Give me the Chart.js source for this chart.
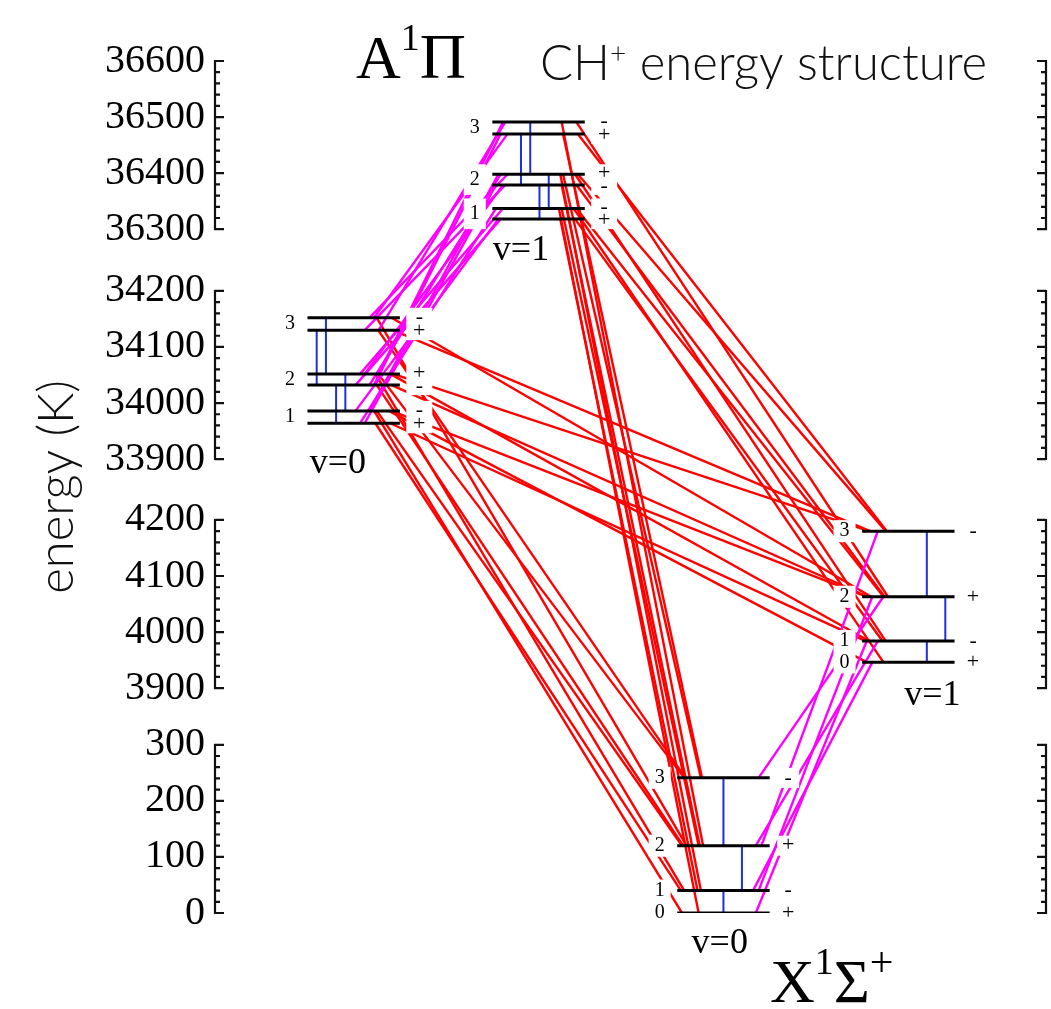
<!DOCTYPE html>
<html>
<head>
<meta charset="utf-8">
<script src="https://cdn.jsdelivr.net/npm/chart.js@4.4.1/dist/chart.umd.min.js"></script>
<style>
html, body { margin: 0; padding: 0; background: #fff; }
#wrap { width: 1051px; height: 1009px; position: relative; }
</style>
</head>
<body>
<div id="wrap"><canvas id="levelChart"></canvas></div>
<script>
// level energies in K
// A state: order is J1, J1, J2, J2, J3, J3 (lower sublevel first)
const aLevelJ = [1, 1, 2, 2, 3, 3];
const aLevelParity = ['+', '-', '-', '+', '+', '-'];
const aV0Energy = [33964, 33986, 34032, 34052, 34130, 34152];
const aV1Energy = [36318, 36337, 36379, 36398, 36470, 36491];
// X state: J = 0..3
const xLevelJ = [0, 1, 2, 3];
const xLevelParity = ['+', '-', '+', '-'];
const xV0Energy = [0, 40, 120, 241];
const xV1Energy = [3946, 3984, 4063, 4180];

// broken energy axis
const axisSegments = [[0, 300], [3900, 4200], [33900, 34200], [36300, 36600]];
const tickLabels = [0, 100, 200, 300, 3900, 4000, 4100, 4200, 33900, 34000, 34100, 34200, 36300, 36400, 36500, 36600];

// A -> X electronic lines: [A level index, X level J]
const electronicPairs = [[1, 0], [1, 2], [0, 1], [3, 1], [3, 3], [2, 2], [5, 2], [4, 3]];
// A v=1 -> A v=0: [upper index, lower index]
const aVibPairs = [[5, 4], [5, 3], [4, 5], [4, 2], [3, 5], [3, 2], [3, 1], [2, 4], [2, 3], [2, 0], [1, 3], [1, 0], [0, 2], [0, 1]];
// X v=1 -> X v=0: [upper J, lower J]
const xVibPairs = [[3, 2], [2, 3], [2, 1], [1, 2], [1, 0], [0, 1]];
// pure rotational / lambda doublet lines (blue): [upper index, lower index]
const aRotPairs = [[4, 2], [5, 3], [2, 0], [3, 1]];
const xRotPairs = [[3, 2], [2, 1], [1, 0]];

// ---- layout (not data) ----
const segmentGap = [101, 108.5, 110];
const col = { A0: 1, A1: 3, X0: 5, X1: 7 };
const aRotX = { A0: [0.10, 0.20, 0.31, 0.41], A1: [0.31, 0.41, 0.51, 0.61] };
const xRotX = { X0: [0.5, 0.7, 0.5], X1: [0.7, 0.9, 0.7] };

function toDisplay(E) {
  let base = 0;
  for (let i = 0; i < axisSegments.length; i++) {
    const [lo, hi] = axisSegments[i];
    if (E <= hi + 50 || i === axisSegments.length - 1) return base + (E - lo);
    base += (hi - lo) + segmentGap[i];
  }
}

function seg(x1, e1, x2, e2, color, width, order) {
  return {
    data: [{ x: x1, y: toDisplay(e1) }, { x: x2, y: toDisplay(e2) }],
    showLine: true, borderColor: color, borderWidth: width,
    pointRadius: 0, fill: false, order: order
  };
}

const datasets = [];
const RED = '#ff0000', MAG = '#ff00ff', BLUE = '#1f2fe0';

// electronic lines
[['A0', aV0Energy], ['A1', aV1Energy]].forEach(([ak, aE]) => {
  [['X0', xV0Energy], ['X1', xV1Energy]].forEach(([xk, xE]) => {
    electronicPairs.forEach(([ui, lj]) => {
      const uf = (xk === 'X0' ? 0.72 : 0.88) + 0.015 * lj;
      const lf = (ak === 'A0' ? 0.04 : 0.22) + 0.012 * ui;
      datasets.push(seg(col[ak] + uf, aE[ui], col[xk] + lf, xE[lj], RED, 2.4, 4));
    });
  });
});
// vibrational lines
aVibPairs.forEach(([ui, li]) => {
  datasets.push(seg(col.A1 + 0.04 + 0.025 * li, aV1Energy[ui], col.A0 + 0.52 + 0.05 * ui, aV0Energy[li], MAG, 2.4, 3));
});
xVibPairs.forEach(([uj, lj]) => {
  datasets.push(seg(col.X1 + 0.05 + 0.06 * lj, xV1Energy[uj], col.X0 + 0.82 + 0.03 * uj, xV0Energy[lj], MAG, 2.4, 3));
});
// blue rotational lines
['A0', 'A1'].forEach(k => {
  const E = k === 'A0' ? aV0Energy : aV1Energy;
  aRotPairs.forEach(([u, l], i) => {
    const x = col[k] + aRotX[k][i];
    datasets.push(seg(x, E[u], x, E[l], BLUE, 2, 1));
  });
});
['X0', 'X1'].forEach(k => {
  const E = k === 'X0' ? xV0Energy : xV1Energy;
  xRotPairs.forEach(([u, l], i) => {
    const x = col[k] + xRotX[k][i];
    datasets.push(seg(x, E[u], x, E[l], BLUE, 2, 1));
  });
});
// level bars
[['A0', aV0Energy], ['A1', aV1Energy], ['X0', xV0Energy], ['X1', xV1Energy]].forEach(([k, E]) => {
  E.forEach(e => datasets.push(seg(col[k], e, col[k] + 1, e, '#000', 3, 0)));
});

const SERIF = '"Liberation Serif", "DejaVu Serif", serif';
const SANS = 'Lato, "Liberation Sans", sans-serif';

const brokenAxis = {
  id: 'brokenAxis',
  afterDraw(chart) {
    const { ctx, chartArea, scales: { y } } = chart;
    ctx.save();
    ctx.strokeStyle = '#111';
    ctx.lineWidth = 2.2;
    [[chartArea.left, 1], [chartArea.right - 1, -1]].forEach(([ax, dir]) => {
      axisSegments.forEach(([lo, hi]) => {
        const top = y.getPixelForValue(toDisplay(hi));
        const bot = y.getPixelForValue(toDisplay(lo));
        ctx.beginPath();
        ctx.moveTo(ax, top - 1);
        ctx.lineTo(ax, bot + 1);
        for (let v = lo; v <= hi; v += 20) {
          const py = y.getPixelForValue(toDisplay(v));
          const len = (v - lo) % 100 === 0 ? 9 : 5;
          ctx.moveTo(ax, py);
          ctx.lineTo(ax + dir * len, py);
        }
        ctx.stroke();
      });
    });
    ctx.restore();
  }
};

const levelLabels = {
  id: 'levelLabels',
  afterDatasetsDraw(chart) {
    const { ctx, scales: { x, y } } = chart;
    const py = e => y.getPixelForValue(toDisplay(e));
    const px = v => x.getPixelForValue(v);
    ctx.save();
    ctx.textAlign = 'center';
    ctx.textBaseline = 'middle';
    const label = (txt, cx, cy, w, h, size) => {
      ctx.fillStyle = '#fff';
      ctx.fillRect(cx - w / 2, cy - h / 2, w, h);
      ctx.fillStyle = '#000';
      ctx.font = size + 'px ' + SERIF;
      ctx.fillText(txt, cx, cy);
    };
    // A state columns
    [['A0', aV0Energy], ['A1', aV1Energy]].forEach(([k, E]) => {
      for (let j = 0; j < 3; j++) {
        const y1 = py(E[2 * j]), y2 = py(E[2 * j + 1]);
        const h = Math.abs(y1 - y2) + 20;
        label(String(aLevelJ[2 * j]), px(col[k] - 0.19), (y1 + y2) / 2, 22, h, 20);
        const cx = px(col[k] + 1.21);
        ctx.fillStyle = '#fff';
        ctx.fillRect(cx - 13, (y1 + y2) / 2 - h / 2, 26, h);
        ctx.fillStyle = '#000';
        ctx.font = '22px ' + SERIF;
        ctx.fillText(aLevelParity[2 * j], cx, y1 + 1);
        ctx.fillText(aLevelParity[2 * j + 1], cx, y2 - 1);
      }
    });
    // X state columns
    [['X0', xV0Energy], ['X1', xV1Energy]].forEach(([k, E]) => {
      E.forEach((e, i) => {
        label(String(xLevelJ[i]), px(col[k] - 0.19), py(e), 22, 22, 20);
        label(xLevelParity[i], px(col[k] + 1.2), py(e), 22, 20, 22);
      });
    });
    // vibrational labels
    ctx.fillStyle = '#000';
    ctx.font = '36px ' + SERIF;
    ctx.fillText('v=0', px(col.A0 + 0.33), py(aV0Energy[0]) + 40);
    ctx.fillText('v=1', px(col.A1 + 0.31), py(aV1Energy[0]) + 31);
    ctx.fillText('v=0', px(col.X0 + 0.46), py(xV0Energy[0]) + 31);
    ctx.fillText('v=1', px(col.X1 + 0.76), py(xV1Energy[0]) + 33);
    ctx.restore();
  },
  afterDraw(chart) {
    const { ctx, chartArea } = chart;
    ctx.save();
    ctx.fillStyle = '#000';
    ctx.textBaseline = 'alphabetic';
    ctx.textAlign = 'left';
    const runs = (parts, x0, base) => {
      let xx = x0;
      parts.forEach(([t, font, dy]) => {
        ctx.font = font;
        ctx.fillText(t, xx, base + dy);
        xx += ctx.measureText(t).width;
      });
    };
    // state names
    runs([['A', '62px ' + SERIF, 0], ['1', '38px ' + SERIF, -28], ['\u03A0', '64px ' + SERIF, 0]], 356, 78);
    runs([['X', '62px ' + SERIF, 0], ['1', '38px ' + SERIF, -28], ['\u03A3', '62px ' + SERIF, 0], ['+', '42px ' + SERIF, -26]], 770, 1002);
    // title
    ctx.fillStyle = '#111';
    runs([['CH', '300 49px ' + SANS, 0], ['+', '300 28px ' + SANS, -17], [' energy structure', '300 49px ' + SANS, 0]], 540, 80);
    // axis title
    ctx.translate(57, (chartArea.top + chartArea.bottom) / 2);
    ctx.rotate(-Math.PI / 2);
    ctx.textAlign = 'center';
    ctx.textBaseline = 'middle';
    ctx.font = '300 49px ' + SANS;
    ctx.fillText('energy (K)', 0, 0);
    ctx.restore();
  }
};

new Chart(document.getElementById('levelChart').getContext('2d'), {
  type: 'scatter',
  data: { datasets: datasets },
  options: {
    responsive: true,
    maintainAspectRatio: false,
    animation: false,
    layout: { padding: { left: 0, right: 4, top: 61, bottom: 96 } },
    plugins: { legend: { display: false }, tooltip: { enabled: false } },
    scales: {
      x: { type: 'linear', min: 0, max: 9, display: false },
      y: {
        type: 'linear',
        min: 0,
        max: toDisplay(36600),
        grid: { display: false },
        border: { display: false },
        afterBuildTicks: s => { s.ticks = tickLabels.map(v => ({ value: toDisplay(v) })); },
        afterFit: s => { s.width = 215; },
        ticks: {
          autoSkip: false,
          padding: 2,
          color: '#000',
          font: { family: 'Liberation Serif', size: 40 },
          callback: (v, i) => tickLabels[i]
        }
      }
    }
  },
  plugins: [brokenAxis, levelLabels]
});
</script>
</body>
</html>
